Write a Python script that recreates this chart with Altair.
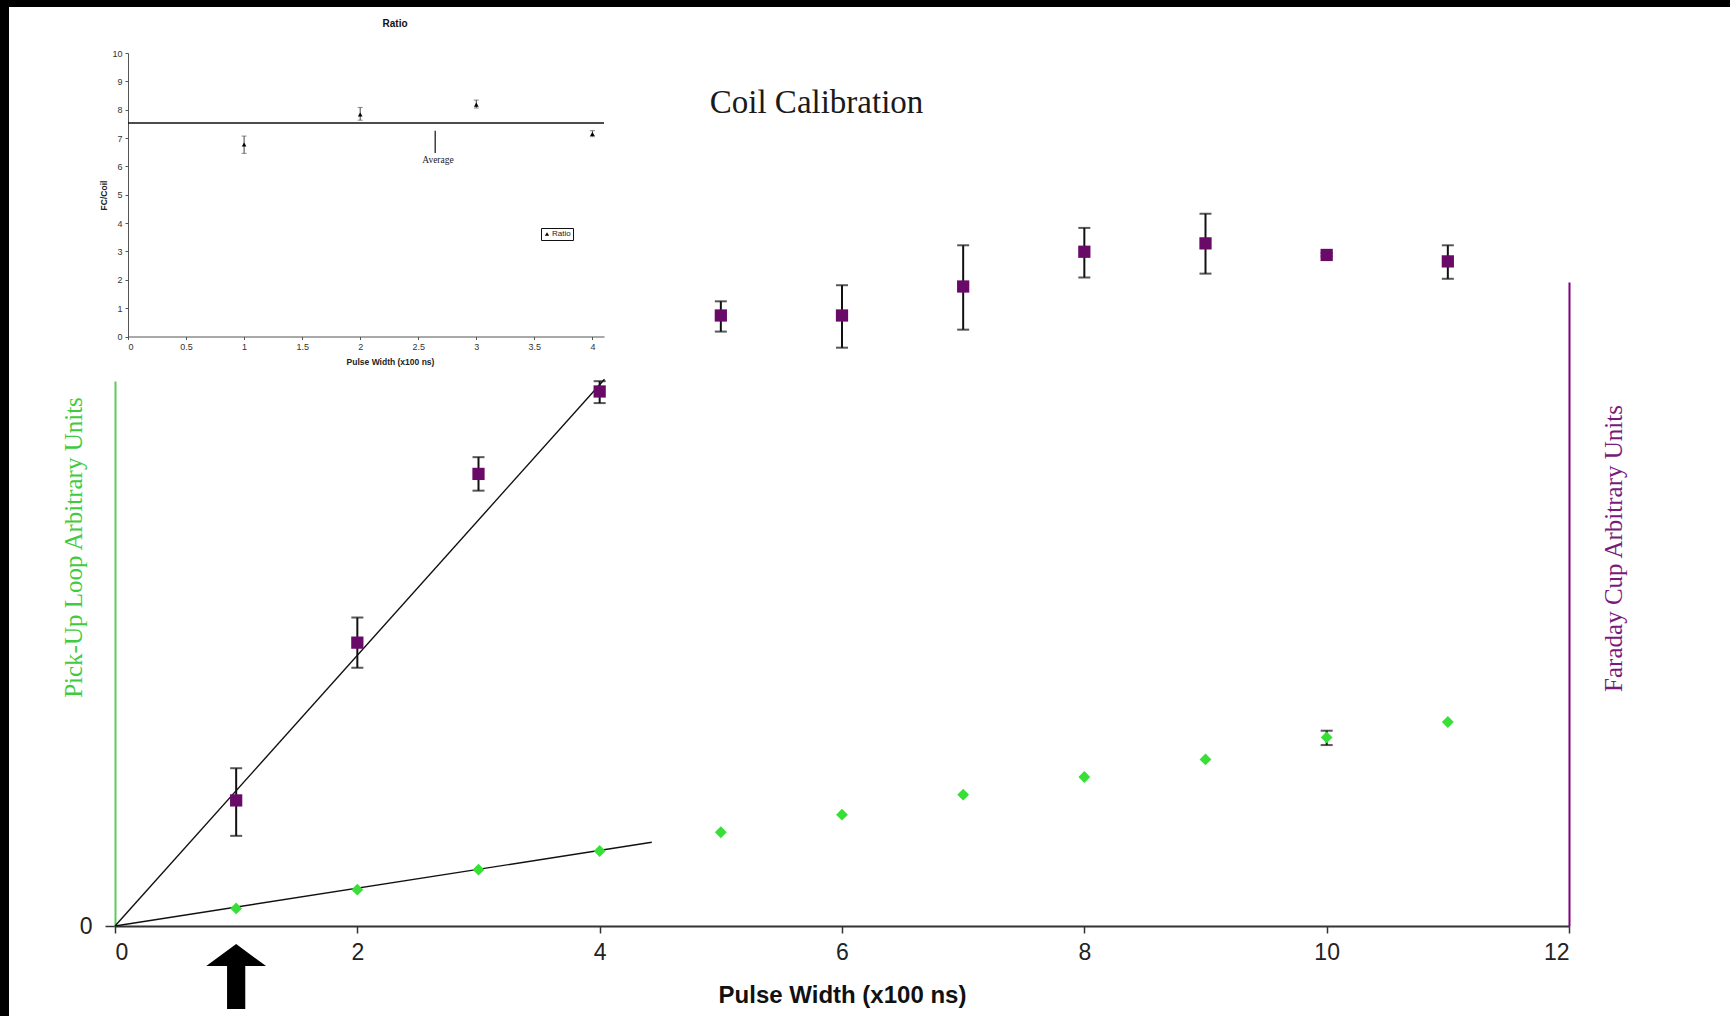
import altair as alt
import pandas as pd

# ---------------- data: main "Coil Calibration" chart ----------------
pulse_width = [1, 2, 3, 4, 5, 6, 7, 8, 9, 10, 11]
pickup_loop = [0.97, 2.00, 3.10, 4.13, 5.16, 6.13, 7.23, 8.20, 9.17, 10.38, 11.23]
faraday_cup = [1.95, 4.40, 7.02, 8.30, 9.48, 9.48, 9.93, 10.47, 10.60, 10.42, 10.32]
faraday_lo = [1.40, 4.01, 6.76, 8.12, 9.23, 8.98, 9.26, 10.07, 10.13, 10.40, 10.05]
faraday_hi = [2.45, 4.79, 7.28, 8.46, 9.70, 9.95, 10.57, 10.84, 11.06, 10.45, 10.57]
pickup_err_x = [10]
pickup_err_lo = [9.96]
pickup_err_hi = [10.75]
pickup_fit_x = [0, 4.43]
pickup_fit_y = [0, 4.61]
faraday_fit_x = [0, 4.04]
faraday_fit_y = [0, 8.49]
main_ticks = [0, 2, 4, 6, 8, 10, 12]

# ---------------- data: inset "Ratio" chart ----------------
ratio_x = [1, 2, 3, 4]
ratio_y = [6.77, 7.83, 8.18, 7.14]
ratio_lo = [6.46, 7.63, 8.06, 7.05]
ratio_hi = [7.07, 8.08, 8.34, 7.26]
ratio_average = [7.53]
average_span = [0, 4.1]
inset_x_ticks = [0, 0.5, 1, 1.5, 2, 2.5, 3, 3.5, 4]
inset_y_ticks = [0, 1, 2, 3, 4, 5, 6, 7, 8, 9, 10]

# ---------------- annotations (data coordinates) ----------------
main_title = ["Coil Calibration"]
main_title_x = [5.79]
main_title_y = [12.78]          # Faraday-cup scale
arrow_x = [1]
arrow_y = [-2.78]               # pick-up loop scale
inset_title = ["Ratio"]
inset_title_x = [2.30]
inset_title_y = [11.02]
average_label = ["Average"]
average_label_x = [2.67]
average_label_y = [6.24]
average_pointer_x = [2.646]
average_pointer_y = [6.47, 7.26]

# ---------------- layout ----------------
W, H = 1721, 1009
PAD = {"left": 9, "top": 7, "right": 0, "bottom": 0}
NARROW = "Liberation Sans Narrow, Arial Narrow, Liberation Sans, sans-serif"
SERIF = "Liberation Serif, Times New Roman, serif"
SANS = "Liberation Sans, Arial, sans-serif"
GREEN_AXIS = "#5CCB5C"
GREEN_PT = "#36E036"
PURPLE_AXIS = "#800080"
PURPLE_PT = "#690A69"
ARROW = "M0,-1L0.92,-0.32L0.28,-0.32L0.28,1L-0.28,1L-0.28,-0.32L-0.92,-0.32Z"

x_main_scale = alt.Scale(domain=[0, 12], range=[106, 1560], nice=False, zero=False)
y_green_scale = alt.Scale(domain=[0, 30], range=[919, 374], nice=False, zero=False)
y_purple_scale = alt.Scale(domain=[0, 10], range=[919, 275], nice=False, zero=False)
x_in_scale = alt.Scale(domain=[0, 4.1], range=[119, 595], nice=False, zero=False)
y_in_scale = alt.Scale(domain=[0, 10], range=[329.5, 46], nice=False, zero=False)

x_main_axis = alt.Axis(
    orient="bottom", offset=919 - H, values=main_ticks, grid=False,
    labelFont=NARROW, labelFontSize=23, labelColor="#222", labelPadding=8,
    tickSize=7, tickColor="#333", tickWidth=1.5,
    domainColor="#333", domainWidth=2,
    title="Pulse Width (x100 ns)", titleFont=NARROW, titleFontSize=24,
    titleFontWeight="bold", titleColor="#111",
    titleX=833, titleY=69, titleBaseline="middle", titleAlign="center",
)
y_green_axis = alt.Axis(
    orient="left", offset=-106, values=[0], grid=False,
    labelFont=NARROW, labelFontSize=23, labelColor="#222", labelPadding=13,
    tickSize=10, tickColor="#333", tickWidth=1.5,
    domainColor=GREEN_AXIS, domainWidth=2,
    title="Pick-Up Loop Arbitrary Units", titleFont=SERIF, titleFontSize=25,
    titleFontWeight="normal", titleColor="#3FCB3F", titleAngle=270,
    titleX=-42, titleY=540, titleAlign="center", titleBaseline="middle",
)
y_purple_axis = alt.Axis(
    orient="right", offset=1560 - W, grid=False, labels=False, ticks=False,
    domainColor=PURPLE_AXIS, domainWidth=2,
    title="Faraday Cup Arbitrary Units", titleFont=SERIF, titleFontSize=25,
    titleFontWeight="normal", titleColor="#7A1A7A", titleAngle=270,
    titleX=44, titleY=541, titleAlign="center", titleBaseline="middle",
)
x_in_axis = alt.Axis(
    orient="bottom", offset=329.5 - H, values=inset_x_ticks, format="~g", grid=False,
    labelFont=SANS, labelFontSize=9, labelColor="#333", labelPadding=3,
    tickSize=3, tickColor="#555", domainColor="#555", domainWidth=1,
    title="Pulse Width (x100 ns)", titleFont=SANS, titleFontSize=8.5,
    titleFontWeight="bold", titleColor="#222",
    titleX=381, titleY=25, titleBaseline="middle", titleAlign="center",
)
y_in_axis = alt.Axis(
    orient="left", offset=-119, values=inset_y_ticks, grid=False,
    labelFont=SANS, labelFontSize=9, labelColor="#333", labelPadding=3,
    tickSize=3, tickColor="#555", domainColor="#555", domainWidth=1,
    title="FC/Coil", titleFont=SANS, titleFontSize=8.5, titleFontWeight="bold",
    titleColor="#222", titleAngle=270, titleX=-25, titleY=188,
    titleAlign="center", titleBaseline="middle",
)


def XM(f):
    return alt.X(f, type="quantitative", scale=x_main_scale, axis=x_main_axis)


def YG(f):
    return alt.Y(f, type="quantitative", scale=y_green_scale, axis=y_green_axis)


def YP(f):
    return alt.Y(f, type="quantitative", scale=y_purple_scale, axis=y_purple_axis)


def XI(f):
    return alt.X(f, type="quantitative", scale=x_in_scale, axis=x_in_axis)


def YI(f):
    return alt.Y(f, type="quantitative", scale=y_in_scale, axis=y_in_axis)


# ---------------- pick-up loop (green) ----------------
green_df = pd.DataFrame({"x": pulse_width, "y": pickup_loop})
green_fit_df = pd.DataFrame({"x": pickup_fit_x, "y": pickup_fit_y})
green_err_df = pd.DataFrame({"x": pickup_err_x, "lo": pickup_err_lo, "hi": pickup_err_hi})
arrow_df = pd.DataFrame({"x": arrow_x, "y": arrow_y})

green_fit = alt.Chart(green_fit_df).mark_line(color="#111", strokeWidth=1.4).encode(
    x=XM("x"), y=YG("y"))
green_err = alt.Chart(green_err_df).mark_rule(color="#111", strokeWidth=2).encode(
    x=XM("x"), y=YG("lo"), y2="hi")
green_caps = alt.Chart(green_err_df).transform_fold(["lo", "hi"], as_=["k", "v"]).mark_tick(
    orient="horizontal", size=12, thickness=2, color="#111").encode(x=XM("x"), y=YG("v:Q"))
green_pts = alt.Chart(green_df).mark_point(
    shape="diamond", filled=True, size=140, color=GREEN_PT, opacity=1).encode(
    x=XM("x"), y=YG("y"))
arrow = alt.Chart(arrow_df).mark_point(
    shape=ARROW, filled=True, size=4225, color="black", opacity=1, strokeWidth=0).encode(
    x=XM("x"), y=YG("y"))
green_group = alt.layer(green_fit, green_err, green_caps, green_pts, arrow)

# ---------------- Faraday cup (purple) ----------------
purple_df = pd.DataFrame({"x": pulse_width, "y": faraday_cup, "lo": faraday_lo, "hi": faraday_hi})
purple_fit_df = pd.DataFrame({"x": faraday_fit_x, "y": faraday_fit_y})
title_df = pd.DataFrame({"x": main_title_x, "y": main_title_y, "t": main_title})

purple_fit = alt.Chart(purple_fit_df).mark_line(color="#111", strokeWidth=1.4).encode(
    x=XM("x"), y=YP("y"))
purple_err = alt.Chart(purple_df).mark_rule(color="#111", strokeWidth=2).encode(
    x=XM("x"), y=YP("lo"), y2="hi")
purple_caps = alt.Chart(purple_df).transform_fold(["lo", "hi"], as_=["k", "v"]).mark_tick(
    orient="horizontal", size=12, thickness=2, color="#111").encode(x=XM("x"), y=YP("v:Q"))
purple_pts = alt.Chart(purple_df).mark_square(size=150, color=PURPLE_PT, opacity=1).encode(
    x=XM("x"), y=YP("y"))
title_txt = alt.Chart(title_df).mark_text(
    font=SERIF, fontSize=33, color="#1a1a1a", align="center", baseline="middle").encode(
    x=XM("x"), y=YP("y"), text="t:N")
purple_group = alt.layer(purple_fit, purple_err, purple_caps, purple_pts, title_txt)

main = alt.layer(green_group, purple_group).resolve_scale(y="independent")

# ---------------- inset ----------------
ratio_df = pd.DataFrame({"x": ratio_x, "y": ratio_y, "lo": ratio_lo, "hi": ratio_hi,
                         "series": ["Ratio"] * len(ratio_x)})
avg_df = pd.DataFrame({"y": ratio_average, "x0": [average_span[0]], "x1": [average_span[1]]})
pointer_df = pd.DataFrame({"x": average_pointer_x, "y0": [average_pointer_y[0]],
                           "y1": [average_pointer_y[1]]})
avg_lbl_df = pd.DataFrame({"x": average_label_x, "y": average_label_y, "t": average_label})
in_title_df = pd.DataFrame({"x": inset_title_x, "y": inset_title_y, "t": inset_title})

avg_rule = alt.Chart(avg_df).mark_rule(color="#111", strokeWidth=1.5).encode(
    x=XI("x0"), x2="x1", y=YI("y"))
pointer = alt.Chart(pointer_df).mark_rule(color="#111", strokeWidth=1.2).encode(
    x=XI("x"), y=YI("y0"), y2="y1")
avg_lbl = alt.Chart(avg_lbl_df).mark_text(
    font=SERIF, fontSize=9.5, color="#222", align="center", baseline="middle").encode(
    x=XI("x"), y=YI("y"), text="t:N")
in_err = alt.Chart(ratio_df).mark_rule(color="#444", strokeWidth=1).encode(
    x=XI("x"), y=YI("lo"), y2="hi")
in_caps = alt.Chart(ratio_df).transform_fold(["lo", "hi"], as_=["k", "v"]).mark_tick(
    orient="horizontal", size=5, thickness=1, color="#555").encode(x=XI("x"), y=YI("v:Q"))
in_pts = alt.Chart(ratio_df).mark_point(shape="triangle-up", filled=True, size=22, opacity=1).encode(
    x=XI("x"), y=YI("y"),
    color=alt.Color("series:N", scale=alt.Scale(range=["black"]),
                    legend=alt.Legend(orient="none", legendX=532, legendY=221, title=None,
                                      strokeColor="#111", fillColor="white", padding=2,
                                      cornerRadius=0, symbolType="triangle-up",
                                      symbolSize=18, symbolStrokeWidth=0,
                                      labelFont=SANS, labelFontSize=8, labelColor="#222",
                                      labelOffset=1)))
in_title = alt.Chart(in_title_df).mark_text(
    font=SANS, fontSize=10, fontWeight="bold", color="#111", align="center",
    baseline="middle").encode(x=XI("x"), y=YI("y"), text="t:N")
inset = alt.layer(avg_rule, pointer, avg_lbl, in_err, in_caps, in_pts, in_title)

chart = (
    alt.layer(main, inset)
    .resolve_scale(x="independent", y="independent")
    .properties(width=W, height=H, autosize=alt.AutoSizeParams(type="none"),
                padding=PAD, background="black")
    .configure_view(stroke=None, fill="white")
)

chart.save("out.html", embed_options={"renderer": "svg", "actions": False})
